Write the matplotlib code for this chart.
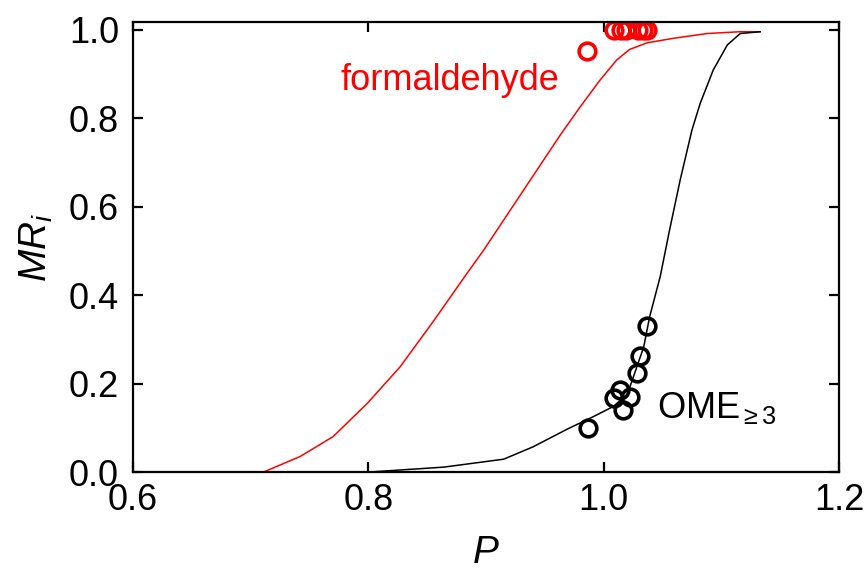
import numpy as np
import matplotlib.pyplot as plt

plt.rcParams['font.family'] = ['Liberation Sans', 'DejaVu Sans']
plt.rcParams['mathtext.fontset'] = 'custom'
plt.rcParams['mathtext.rm'] = 'Liberation Sans'
plt.rcParams['mathtext.it'] = 'Liberation Sans:italic'

# model curves
form_x = [0.711, 0.742, 0.770, 0.799, 0.827, 0.855, 0.884, 0.898, 0.925,
          0.945, 0.963, 0.980, 0.997, 1.011, 1.022, 1.037, 1.059, 1.088,
          1.116, 1.133]
form_y = [0.0, 0.035, 0.080, 0.155, 0.238, 0.340, 0.450, 0.502, 0.610,
          0.690, 0.762, 0.826, 0.887, 0.932, 0.956, 0.971, 0.981, 0.992,
          0.996, 0.996]

ome_x = [0.801, 0.864, 0.915, 0.940, 0.969, 0.991, 1.008, 1.020, 1.034,
         1.039, 1.048, 1.056, 1.065, 1.075, 1.082, 1.093, 1.105, 1.116,
         1.133]
ome_y = [0.0, 0.011, 0.029, 0.057, 0.097, 0.125, 0.148, 0.175, 0.283,
         0.351, 0.442, 0.548, 0.661, 0.774, 0.834, 0.909, 0.966, 0.992,
         0.996]

# experimental points
form_px = [0.986, 1.009, 1.015, 1.019, 1.029, 1.033, 1.037]
form_py = [0.953, 1.0, 1.0, 1.0, 1.0, 1.0, 1.0]

ome_px = [0.987, 1.009, 1.014, 1.022, 1.016, 1.028, 1.031, 1.037]
ome_py = [0.100, 0.167, 0.186, 0.169, 0.140, 0.225, 0.262, 0.330]

fig = plt.figure(figsize=(8.67, 5.79), dpi=100)
ax = fig.add_axes([0.1534, 0.1848, 0.8144, 0.7772])

ax.plot(form_x, form_y, color='red', lw=1.1)
ax.plot(ome_x, ome_y, color='black', lw=1.1)
ax.plot(form_px, form_py, 'o', mfc='none', mec='red', ms=12, mew=2.6)
ax.plot(ome_px, ome_py, 'o', mfc='none', mec='black', ms=12, mew=2.6)

ax.text(0.869, 0.885, 'formaldehyde', color='red', fontsize=26,
        ha='center', va='center')
ax.text(1.045, 0.145, r'OME$_{\geq 3}$', color='black', fontsize=26,
        ha='left', va='center')

ax.set_xlim(0.6, 1.2)
ax.set_ylim(0, 1.018)
ax.set_xticks([0.6, 0.8, 1.0, 1.2])
ax.set_yticks([0.0, 0.2, 0.4, 0.6, 0.8, 1.0])
ax.xaxis.set_major_formatter(plt.FormatStrFormatter('%.1f'))
ax.yaxis.set_major_formatter(plt.FormatStrFormatter('%.1f'))

for s in ax.spines.values():
    s.set_linewidth(1.6)
ax.tick_params(direction='in', length=7, width=1.6, labelsize=26,
               top=True, right=True)
ax.tick_params(axis='x', pad=8)
ax.tick_params(axis='y', pad=10)

ax.set_xlabel('$P$', fontsize=28, labelpad=12)
ax.set_ylabel('$MR_i$', fontsize=28, labelpad=10)

fig.savefig('out.png', dpi=100)
